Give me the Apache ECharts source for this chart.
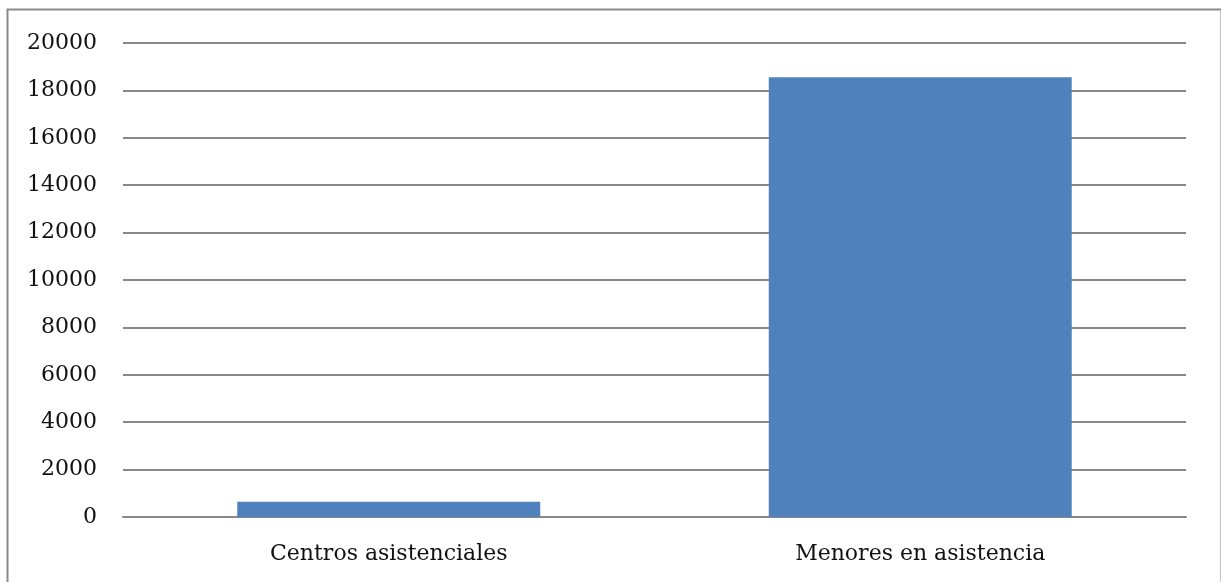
<!DOCTYPE html>
<html>
<head>
<meta charset="utf-8">
<script src="https://cdn.jsdelivr.net/npm/echarts@6/dist/echarts.min.js"></script>
<style>
html,body{margin:0;padding:0;background:#fff;}
#c{width:1221px;height:582px;}
</style>
</head>
<body>
<div id="c"></div>
<script>
var categories = ['Centros asistenciales', 'Menores en asistencia'];
var values = [640, 18550];
var yTicks = {min: 0, max: 20000, interval: 2000};

var chart = echarts.init(document.getElementById('c'));
var font = 'DejaVu Serif';
chart.setOption({
  animation: false,
  backgroundColor: '#fff',
  graphic: [{
    type: 'rect',
    left: 5, top: 7,
    shape: {width: 1214, height: 590},
    style: {fill: 'none', stroke: '#8a8a8a', lineWidth: 2},
    silent: true
  }],
  grid: {left: 123, right: 35, top: 43, bottom: 65, containLabel: false},
  xAxis: {
    type: 'category',
    data: categories,
    axisLine: {lineStyle: {color: '#888', width: 2}},
    axisTick: {show: false},
    axisLabel: {color: '#111', fontFamily: font, fontSize: 22, margin: 26}
  },
  yAxis: {
    type: 'value',
    min: yTicks.min, max: yTicks.max, interval: yTicks.interval,
    axisLine: {show: false},
    axisTick: {show: false},
    splitLine: {lineStyle: {color: '#888', width: 2}},
    axisLabel: {color: '#111', fontFamily: font, fontSize: 22, margin: 26,
      formatter: function (v) { return String(v); }}
  },
  series: [{
    type: 'bar',
    data: values,
    barWidth: '57%',
    itemStyle: {color: '#4f81bd'}
  }]
});
</script>
</body>
</html>
